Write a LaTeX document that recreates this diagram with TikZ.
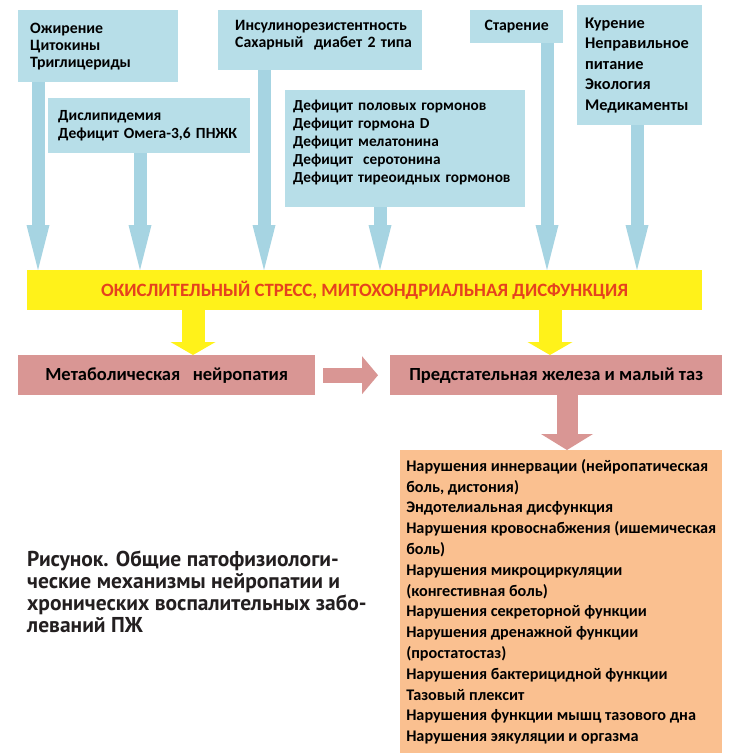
\documentclass[tikz,border=0pt]{standalone}
\usepackage{fontspec}
\setmainfont{Carlito}
\newfontfamily\capfont{PT Sans}
\usetikzlibrary{arrows.meta}
\definecolor{boxblue}{HTML}{B7DEE8}
\definecolor{arrowblue}{HTML}{A6D4E2}
\definecolor{bandyellow}{HTML}{FFF21A}
\definecolor{bandtext}{HTML}{E5421E}
\definecolor{pinkbox}{HTML}{D99694}
\definecolor{peach}{HTML}{FAC090}
\definecolor{captext}{HTML}{231F20}
\tikzset{
  bbox/.style={fill=boxblue, anchor=north west, inner ysep=0pt, align=left,
    font=\bfseries\fontsize{15.8}{17}\selectfont, text=black},
  pbox/.style={fill=pinkbox, anchor=north west, inner sep=0pt,
    font=\bfseries\fontsize{18.5}{20}\selectfont, text=black},
  bluearrow/.style={draw=arrowblue, line width=13pt,
    -{Triangle[length=45pt, width=23pt, line width=0pt]}},
  yelarrow/.style={draw=bandyellow, line width=23pt,
    -{Triangle[length=13pt, width=45pt, line width=0pt]}},
  pinkarrow/.style={draw=pinkbox, line width=15pt,
    -{Triangle[length=16pt, width=38pt, line width=0pt]}},
  pinkdown/.style={draw=pinkbox, line width=21pt,
    -{Triangle[length=16pt, width=52pt, line width=0pt]}},
}
\begin{document}
\begin{tikzpicture}[x=1pt, y=-1pt]
\path[use as bounding box, fill=white] (0,0) rectangle (730,755);

% top blue boxes
\node[bbox, minimum width=160pt, minimum height=72pt, inner xsep=12pt, text width=136pt] (b1) at (18,10)
  {\mbox{Ожирение}\\\mbox{Цитокины}\\\mbox{Триглицериды}};
\node[bbox, minimum width=202pt, minimum height=55pt, inner xsep=10pt, text width=182pt,
  font=\bfseries\fontsize{15.5}{18}\selectfont] (b2) at (48,98)
  {\mbox{Дислипидемия}\\\mbox{Дефицит Омега-3,6 ПНЖК}};
\node[bbox, minimum width=204pt, minimum height=60pt, inner xsep=17pt, text width=170pt] (b3) at (218,10)
  {\mbox{Инсулинорезистентность}\\\mbox{Сахарный\ \ диабет 2 типа}\par\vspace*{10pt}};
\node[bbox, minimum width=240pt, minimum height=117pt, inner xsep=8pt, text width=224pt,
  font=\bfseries\fontsize{15.3}{18}\selectfont] (b4) at (285,90)
  {\mbox{Дефицит половых гормонов}\\\mbox{Дефицит гормона D}\\\mbox{Дефицит мелатонина}\\\mbox{Дефицит\ \ серотонина}\\\mbox{Дефицит тиреоидных гормонов}\par\vspace*{12pt}};
\node[bbox, minimum width=93pt, minimum height=33pt, inner xsep=0pt, align=center] (b5) at (470,10)
  {Старение};
\node[bbox, minimum width=125pt, minimum height=120pt, inner xsep=8pt, text width=109pt,
  font=\bfseries\fontsize{16.3}{20.5}\selectfont] (b6) at (577,5)
  {\mbox{Курение}\\\mbox{Неправильное}\\\mbox{питание}\\\mbox{Экология}\\\mbox{Медикаменты}};

% yellow band
\node[fill=bandyellow, anchor=north west, minimum width=675pt, minimum height=40pt, inner sep=0pt,
  text=bandtext, font=\bfseries\fontsize{18.8}{20}\selectfont] (band) at (27,270)
  {ОКИСЛИТЕЛЬНЫЙ СТРЕСС, МИТОХОНДРИАЛЬНАЯ ДИСФУНКЦИЯ};

% pink boxes
\node[pbox, minimum width=297pt, minimum height=40pt] (pa) at (18,355)
  {Метаболическая\ \ \ нейропатия};
\node[pbox, minimum width=332pt, minimum height=40pt] (pb) at (390,355)
  {Предстательная железа и малый таз};

% peach box
\node[fill=peach, anchor=north west, minimum width=322pt, minimum height=303pt, inner xsep=0pt,
  inner ysep=0pt, align=left,
  font=\bfseries\fontsize{16.2}{20.8}\selectfont] (ob) at (400,450)
  {Нарушения иннервации (нейропатическая\\
   боль, дистония)\\
   Эндотелиальная дисфункция\\
   Нарушения кровоснабжения (ишемическая\\
   боль)\\
   Нарушения микроциркуляции\\
   (конгестивная боль)\\
   Нарушения секреторной функции\\
   Нарушения дренажной функции\\
   (простатостаз)\\
   Нарушения бактерицидной функции\\
   Тазовый плексит\\
   Нарушения функции мышц тазового дна\\
   Нарушения эякуляции и оргазма};

% caption
\node[anchor=north west, inner sep=0pt, align=left, text=captext,
  font=\capfont\bfseries\fontsize{21.5}{22}\selectfont] (cap) at (27,551)
  {Рисунок. Общие патофизиологи-\\
   ческие механизмы нейропатии и\\
   хронических воспалительных забо-\\
   леваний ПЖ};

% arrow x positions
\coordinate (x1) at (38,0);
\coordinate (x2) at (140,0);
\coordinate (x3) at (264,0);
\coordinate (x4) at (380,0);
\coordinate (x5) at (547,0);
\coordinate (x6) at (637,0);
\coordinate (y1) at (193,0);
\coordinate (y2) at (550,0);
\coordinate (p1) at (567,0);

\draw[bluearrow] (b1.south -| x1) -- (band.north -| x1);
\draw[bluearrow] (b2.south -| x2) -- (band.north -| x2);
\draw[bluearrow] (b3.south -| x3) -- (band.north -| x3);
\draw[bluearrow] (b4.south -| x4) -- (band.north -| x4);
\draw[bluearrow] (b5.south -| x5) -- (band.north -| x5);
\draw[bluearrow] (b6.south -| x6) -- (band.north -| x6);

\draw[yelarrow] (band.south -| y1) -- (pa.north -| y1);
\draw[yelarrow] (band.south -| y2) -- (pb.north -| y2);

\draw[pinkarrow] ([xshift=8pt]pa.east) -- ([xshift=-12pt]pb.west);
\draw[pinkdown] (pb.south -| p1) -- (ob.north -| p1);
\end{tikzpicture}
\end{document}
